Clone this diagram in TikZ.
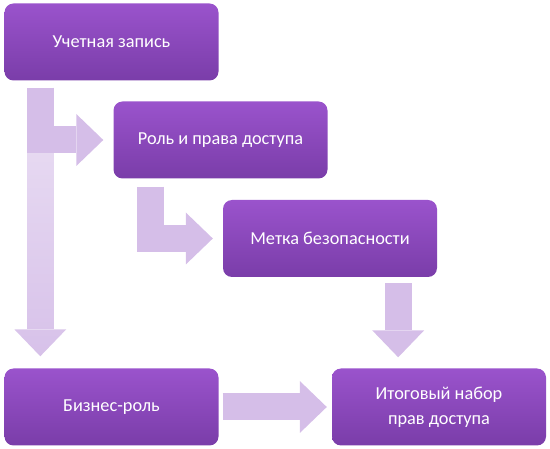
\documentclass[tikz,border=0pt]{standalone}
\usepackage{fontspec}
\setmainfont{Carlito}
\usetikzlibrary{positioning,arrows.meta,calc,fadings}
\definecolor{boxtop}{HTML}{9A53CC}
\definecolor{boxbot}{HTML}{7A3DA9}
\definecolor{arrfill}{HTML}{D5BEE8}
\tikzfading[name=fadeup, top color=transparent!55, bottom color=transparent!0]

\begin{document}
\begin{tikzpicture}[x=1pt, y=-1pt,
        b/.style={rounded corners=9pt, top color=boxtop, bottom color=boxbot, text=white, align=center,
          font=\fontsize{18.3}{25}\selectfont, minimum width=214pt, minimum height=77pt, inner sep=0pt},
        arr/.style={draw=arrfill, line width=27pt, -{Triangle[length=27pt, width=52pt, line width=0pt]}}]
      \useasboundingbox (0,0) rectangle (550,449);
      \node[b] (acc) at (111.5,42) {Учетная запись};
      \node[b] (role) at (220.5,140) {Роль и права доступа};
      \node[b] (lbl) at (330,238.5) {Метка безопасности};
      \node[b] (biz) at (111.5,407) {Бизнес-роль};
      \node[b] (tot) at (439,407) {Итоговый набор\\прав доступа};
      % block arrows
      \coordinate (s1) at ($(acc.south west)+(36,7)$);
      \coordinate (s2) at ($(role.south west)+(37,8)$);
      \coordinate (s3) at ($(lbl.south east)+(-39,6)$);
      \draw[arr, path fading=fadeup, shorten >=12pt] (s1) -- (s1 |- biz.north);
      \draw[arr, shorten >=10pt] (s1) |- (role.west);
      \draw[arr, shorten >=10pt] (s2) |- (lbl.west);
      \draw[arr, shorten >=11pt] (s3) -- (s3 |- tot.north);
      \draw[arr, shorten <=4pt, shorten >=5pt] (biz) -- (tot);
      \end{tikzpicture}
\end{document}
